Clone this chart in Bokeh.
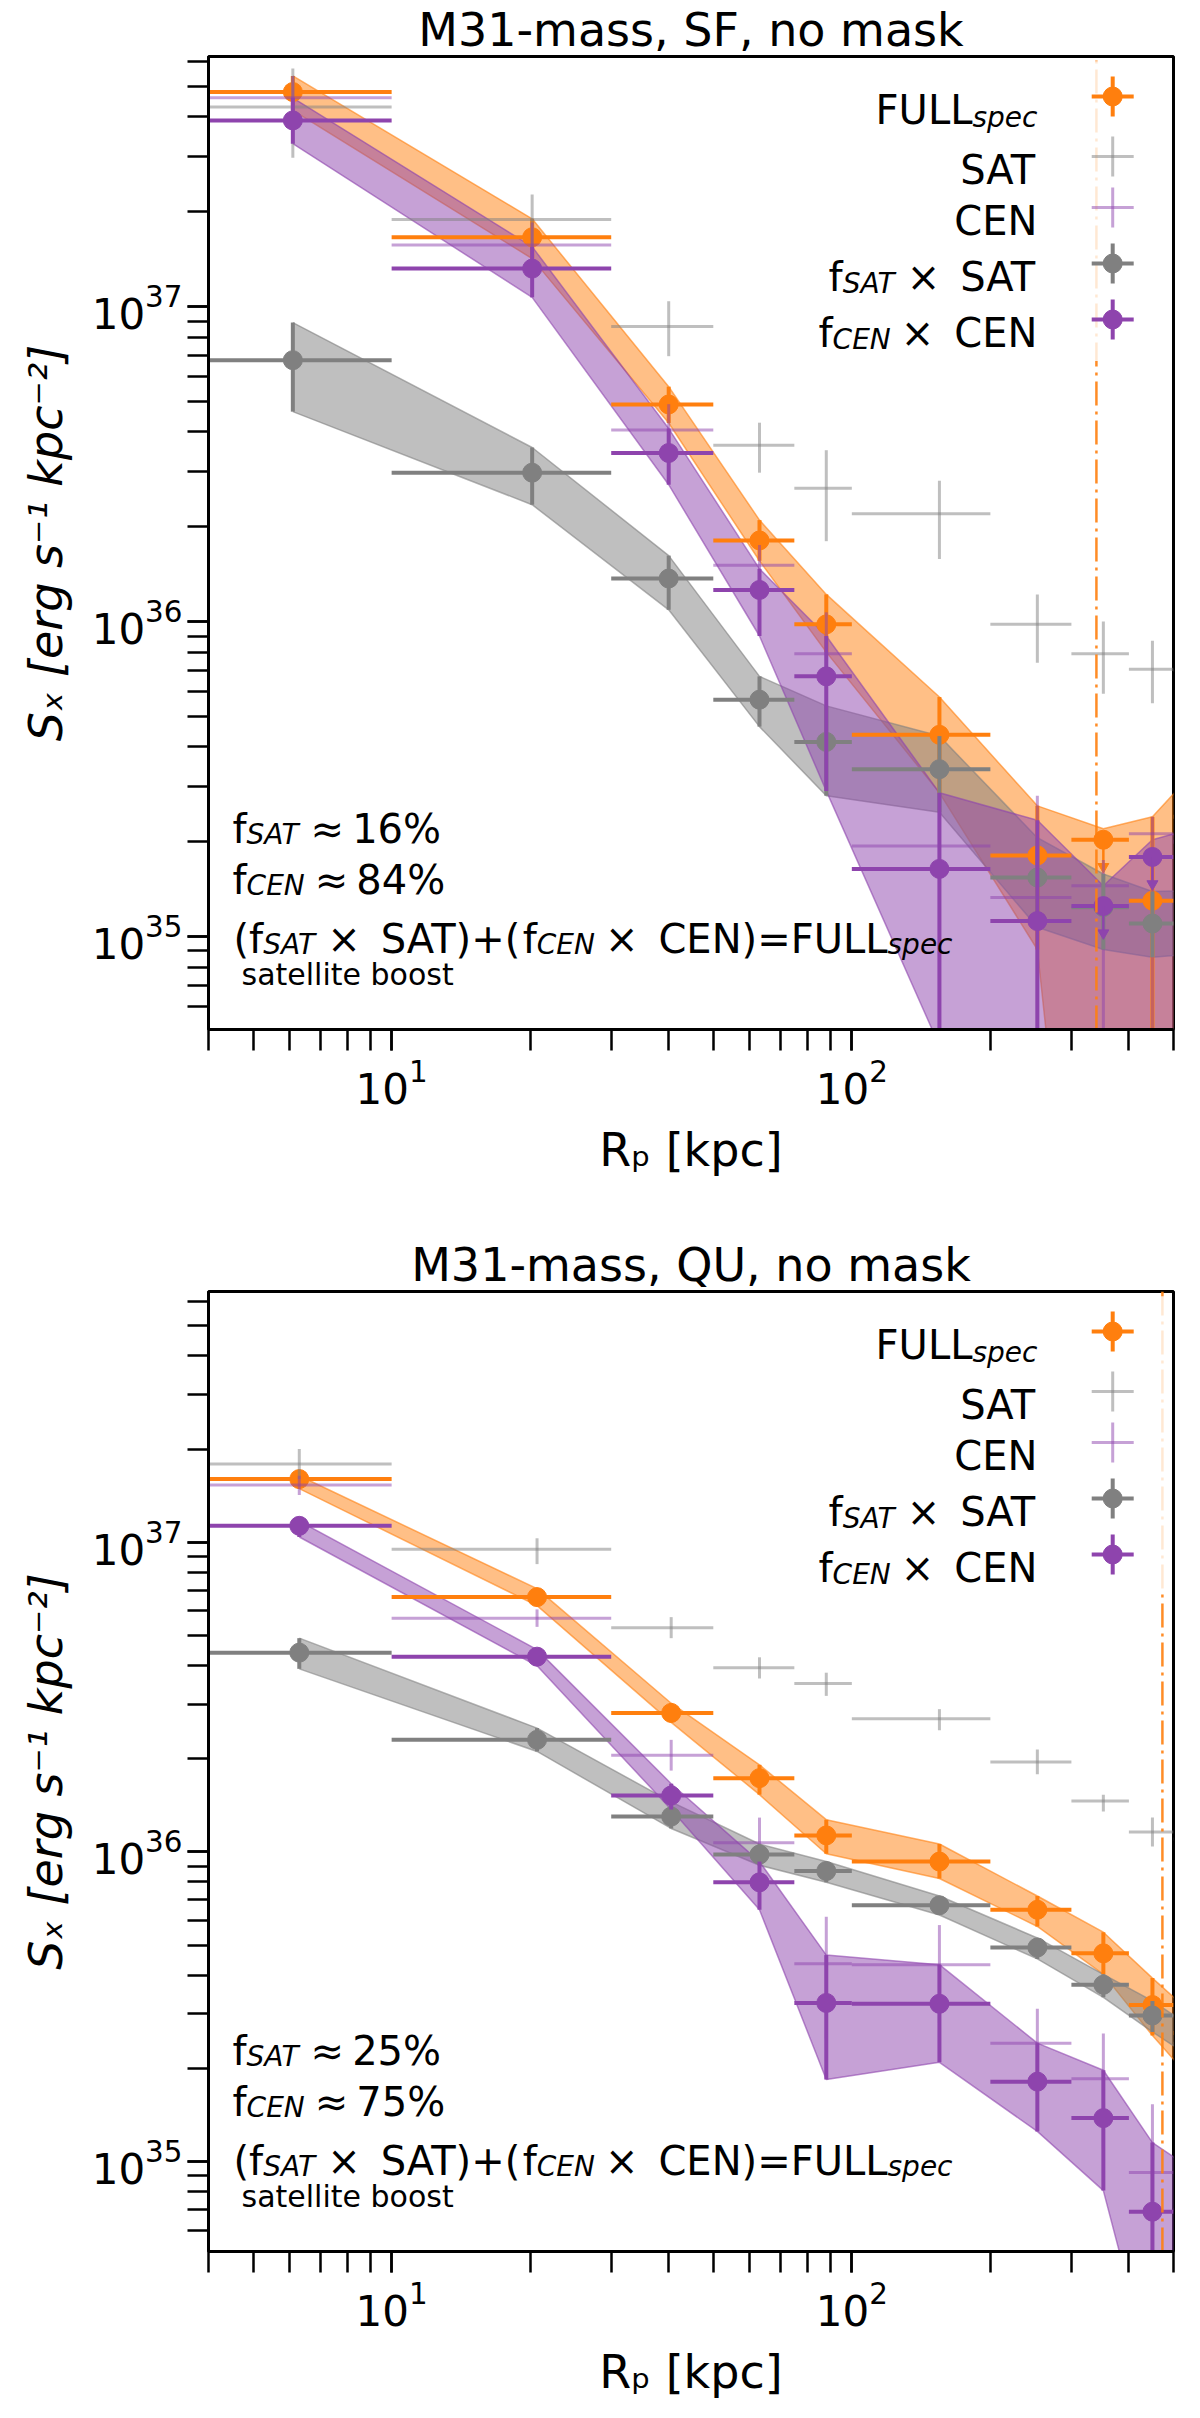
import math
from bokeh.plotting import figure
from bokeh.layouts import column
from bokeh.models import Label, Range1d
from bokeh.embed import file_html
from bokeh.resources import INLINE

# radial bins [kpc], shared by both samples
bin_lo = [4, 10, 30, 50, 75, 100, 200, 300, 400, 500]
bin_hi = [10, 30, 50, 75, 100, 200, 300, 400, 500, 600]

# ---------------- M31-mass, SF ----------------
r_sf = [6.1, 20.2, 40, 63, 88, 155, 253, 352, 450, 550]
full_sf = [4.8e37, 1.66e37, 4.89e36, 1.81e36, 9.8e35, 4.37e35, 1.81e35, 2.03e35, 1.3e35, 2.4e35]
full_sf_lo = [4.2e37, 1.42e37, 4.27e36, 1.56e36, 8.0e35, 2.86e35, 9.1e34, 1e33, 1e33, 1e33]
full_sf_hi = [5.4e37, 1.9e37, 5.57e36, 2.1e36, 1.22e36, 5.76e35, 2.6e35, 2.2e35, 2.4e35, 3.3e35]
sat_sf = [4.3e37, 1.89e37, 8.65e36, 3.63e36, 2.65e36, 2.2e36, 9.8e35, 7.9e35, 7.06e35, 7.0e35]
sat_sf_lo = [2.97e37, 1.44e37, 6.96e36, 2.97e36, 1.8e36, 1.58e36, 7.4e35, 5.9e35, 5.5e35, 5.5e35]
sat_sf_hi = [5.7e37, 2.27e37, 1.04e37, 4.28e36, 3.5e36, 2.8e36, 1.22e36, 1.0e36, 8.7e35, 8.7e35]
cen_sf = [4.6e37, 1.57e37, 4.06e36, 1.51e36, 7.9e35, 1.94e35, 1.33e35, 1.45e35, 2.12e35, 2.1e35]
cen_sf_lo = [3.9e37, 1.27e37, 3.2e36, 1.08e36, 3.4e35, 5e34, 1e33, 1e33, 1e33, 1e33]
cen_sf_hi = [5.4e37, 1.85e37, 4.9e36, 1.75e36, 1.07e36, 3.4e35, 2.8e35, 1.75e35, 2.4e35, 2.5e35]
fsat_sf = [6.76e36, 2.97e36, 1.37e36, 5.65e35, 4.15e35, 3.4e35, 1.54e35, 1.24e35, 1.1e35, 1.1e35]
fsat_sf_lo = [4.64e36, 2.35e36, 1.09e36, 4.64e35, 2.8e35, 2.48e35, 1.07e35, 9.1e34, 8.6e34, 8.8e34]
fsat_sf_hi = [8.9e36, 3.57e36, 1.62e36, 6.7e35, 5.4e35, 4.33e35, 2.06e35, 1.58e35, 1.39e35, 1.4e35]
fcen_sf = [3.9e37, 1.32e37, 3.43e36, 1.26e36, 6.7e35, 1.64e35, 1.12e35, 1.25e35, 1.79e35, 2.0e35]
fcen_sf_lo = [3.29e37, 1.07e37, 2.72e36, 9.0e35, 2.9e35, 4.5e34, 1e33, 1e33, 1e33, 1e33]
fcen_sf_hi = [4.6e37, 1.55e37, 4.1e36, 1.47e36, 9.0e35, 2.86e35, 2.34e35, 1.45e35, 2.03e35, 2.2e35]
uplim_full_sf = [7]
uplim_fcen_sf = [7, 8]
frac_sf = ["16%", "84%"]
rvir_sf = 340

# ---------------- M31-mass, QU ----------------
r_qu = [6.3, 20.7, 40.5, 63, 88, 155, 253, 352, 450, 550]
full_qu = [1.6e37, 6.65e36, 2.81e36, 1.73e36, 1.13e36, 9.3e35, 6.5e35, 4.7e35, 3.2e35, 2.6e35]
full_qu_lo = [1.49e37, 6.24e36, 2.62e36, 1.53e36, 9.86e35, 8.2e35, 5.74e35, 4.02e35, 2.55e35, 1.82e35]
full_qu_hi = [1.64e37, 7.08e36, 3.02e36, 1.91e36, 1.27e36, 1.06e36, 7.2e35, 5.5e35, 3.91e35, 2.99e35]
sat_qu = [1.79e37, 9.5e36, 5.29e36, 3.93e36, 3.5e36, 2.69e36, 1.95e36, 1.46e36, 1.16e36, 1.1e36]
sat_qu_lo = [1.6e37, 8.5e36, 4.9e36, 3.63e36, 3.19e36, 2.47e36, 1.78e36, 1.35e36, 1.04e36, 1.0e36]
sat_qu_hi = [2.0e37, 1.03e37, 5.73e36, 4.25e36, 3.79e36, 2.89e36, 2.14e36, 1.53e36, 1.29e36, 1.2e36]
cen_qu = [1.53e37, 5.68e36, 2.05e36, 1.07e36, 4.35e35, 4.32e35, 2.41e35, 1.85e35, 9.2e34, 7.0e34]
cen_qu_lo = [1.42e37, 5.33e36, 1.83e36, 8.3e35, 2.5e35, 2.8e35, 1.65e35, 1.1e35, 3e34, 1e33]
cen_qu_hi = [1.64e37, 6.07e36, 2.3e36, 1.29e36, 6.17e35, 5.8e35, 3.11e35, 2.59e35, 1.53e35, 1.2e35]
fsat_qu = [4.4e36, 2.3e36, 1.3e36, 9.8e35, 8.67e35, 6.72e35, 4.91e35, 3.72e35, 2.96e35, 2.4e35]
fsat_qu_lo = [3.9e36, 2.11e36, 1.19e36, 9.05e35, 7.97e35, 6.25e35, 4.51e35, 3.39e35, 2.62e35, 2.15e35]
fsat_qu_hi = [4.9e36, 2.51e36, 1.45e36, 1.06e36, 9.3e35, 7.2e35, 5.27e35, 4.02e35, 3.3e35, 2.7e35]
fcen_qu = [1.13e37, 4.27e36, 1.52e36, 7.97e35, 3.25e35, 3.23e35, 1.81e35, 1.38e35, 6.88e34, 5e34]
fcen_qu_lo = [1.04e37, 3.99e36, 1.37e36, 6.5e35, 1.84e35, 2.09e35, 1.25e35, 8.05e34, 2e34, 1e33]
fcen_qu_hi = [1.17e37, 4.5e36, 1.66e36, 9.3e35, 4.64e35, 4.32e35, 2.41e35, 1.97e35, 1.15e35, 9.4e34]
uplim_full_qu = []
uplim_fcen_qu = []
frac_qu = ["25%", "75%"]
rvir_qu = 473

FONT = "DejaVu Sans"
ORANGE = "#ff7f0e"
PURPLE = "#8e44ad"
GREY = "#808080"

# DejaVu Sans advance widths (em), used to lay out mixed-style text runs
ADV = {" ": .318, "(": .39, ")": .39, "[": .39, "]": .39, "+": .838, "=": .838, "×": .838,
       "≈": .838, "−": .838, "%": .95, ",": .318, "-": .361,
       "A": .684, "C": .698, "E": .632, "F": .575, "L": .557, "M": .863, "N": .748,
       "Q": .787, "R": .695, "S": .635, "T": .611, "U": .732, "X": .685,
       "a": .613, "b": .635, "c": .55, "e": .615, "f": .352, "g": .635, "i": .278,
       "k": .579, "l": .278, "m": .974, "n": .634, "o": .612, "p": .635, "r": .411,
       "s": .521, "t": .392}
for d in "0123456789":
    ADV[d] = .636


def text_width(s):
    return sum(ADV.get(ch, 0.6) for ch in s)


def to_data(g, fx, fy, dx=0.0, dy=0.0):
    x = 10 ** (g["lx0"] + (fx + dx / g["fw"]) * (g["lx1"] - g["lx0"]))
    y = 10 ** (g["ly0"] + (fy + dy / g["fh"]) * (g["ly1"] - g["ly0"]))
    return x, y


def write(p, g, fx, fy, dx, dy, pieces, size, align="left"):
    # pieces: (text, scale, style, shift_em, gap_em)
    total = sum(gap * size + text_width(t) * sc * size for t, sc, st, sh, gap in pieces)
    pos = {"left": 0.0, "center": -total / 2, "right": -total}[align]
    for t, sc, st, sh, gap in pieces:
        pos += gap * size
        x, y = to_data(g, fx, fy, dx + pos, dy + sh * size)
        p.add_layout(Label(x=x, y=y, text=t, text_font=FONT, text_color="black",
                           text_font_size=f"{sc * size:.1f}px", text_font_style=st,
                           text_align="left", text_baseline="alphabetic"))
        pos += text_width(t) * sc * size


def sub(t, gap=0.0):
    return (t, 0.7, "italic", -0.16, gap)


def reg(t, gap=0.0, style="normal"):
    return (t, 1.0, style, 0.0, gap)


def errbars(p, r, val, lo, hi, color, alpha, lw, dot, uplims=(), g=None):
    keep = [i for i in range(len(r)) if i not in uplims]
    p.segment(x0=bin_lo, y0=val, x1=bin_hi, y1=val, line_color=color, line_alpha=alpha, line_width=lw)
    p.segment(x0=[r[i] for i in keep], y0=[lo[i] for i in keep], x1=[r[i] for i in keep],
              y1=[hi[i] for i in keep], line_color=color, line_alpha=alpha, line_width=lw)
    if dot:
        p.scatter(r, val, size=19, color=color, alpha=alpha)
    if uplims:
        k = 10 ** (-27 / g["fh"] * (g["ly1"] - g["ly0"]))
        xs = [r[i] for i in uplims]
        ys = [val[i] for i in uplims]
        tips = [v * k for v in ys]
        p.segment(x0=xs, y0=ys, x1=xs, y1=tips, line_color=color, line_width=2.5)
        p.scatter(xs, tips, marker="inverted_triangle", size=11, color=color)


def panel(title, r, full, sat, cen, fsat, fcen, uplims_full, uplims_fcen, frac, rvir,
          y_range, frame_h, top, bottom):
    g = {"lx0": math.log10(4), "lx1": math.log10(500), "ly0": math.log10(y_range[0]),
         "ly1": math.log10(y_range[1]), "fw": 965, "fh": frame_h}
    p = figure(x_axis_type="log", y_axis_type="log", x_range=Range1d(4, 500),
               y_range=Range1d(*y_range), frame_width=965, frame_height=frame_h,
               min_border_left=208, min_border_right=11, min_border_top=top,
               min_border_bottom=bottom, output_backend="svg", toolbar_location=None,
               title=title)
    p.title.text_font = FONT
    p.title.text_font_size = "46px"
    p.title.text_font_style = "normal"
    p.title.text_color = "black"
    p.title.align = "center"
    p.title.standoff = 0
    p.title.offset = 0
    p.grid.visible = False
    p.outline_line_color = "black"
    p.outline_line_width = 3
    p.outline_line_alpha = 1
    for ax in (p.xaxis, p.yaxis):
        ax.axis_line_width = 3
        ax.major_tick_out = 21
        ax.major_tick_in = 0
        ax.minor_tick_out = 21
        ax.minor_tick_in = 0
        ax.major_tick_line_width = 2.5
        ax.minor_tick_line_width = 2.5
        ax.major_label_text_font = FONT
        ax.major_label_text_font_size = "42px"
        ax.major_label_text_color = "black"
        ax.axis_label_text_font = FONT
        ax.axis_label_text_font_size = "46px"
        ax.axis_label_text_color = "black"
    p.yaxis.major_label_standoff = 5
    p.xaxis.major_label_standoff = 8
    p.xaxis.axis_label = "Rₚ [kpc]"
    p.xaxis.axis_label_text_font_style = "normal"
    p.xaxis.axis_label_standoff = 16
    p.yaxis.axis_label = "Sₓ [erg s⁻¹ kpc⁻²]"
    p.yaxis.axis_label_text_font_style = "italic"
    p.yaxis.axis_label_standoff = 16

    # shaded bands
    for (val, lo, hi), color in ((full, ORANGE), (fsat, GREY), (fcen, PURPLE)):
        p.varea(x=r, y1=lo, y2=hi, fill_color=color, fill_alpha=0.5)
        p.line(r, lo, line_color=color, line_alpha=0.6, line_width=1.5)
        p.line(r, hi, line_color=color, line_alpha=0.6, line_width=1.5)

    errbars(p, r, *full, ORANGE, 1.0, 4, True, uplims_full, g)
    errbars(p, r, *sat, GREY, 0.5, 3, False)
    errbars(p, r, *cen, PURPLE, 0.5, 3, False)
    errbars(p, r, *fsat, GREY, 1.0, 4, True)
    errbars(p, r, *fcen, PURPLE, 1.0, 4, True, uplims_fcen, g)

    p.segment(x0=[rvir], y0=[y_range[0]], x1=[rvir], y1=[y_range[1]], line_color=ORANGE,
              line_width=2.5, line_alpha=0.9, line_dash="24 6 3 6")

    # legend box and entries
    bl, bb = to_data(g, 0.62, 0.687)
    br, bt = to_data(g, 0.995, 0.995)
    p.quad(left=[bl], right=[br], bottom=[bb], top=[bt], fill_color="white", fill_alpha=0.8,
           line_color=None)
    entries = [
        ([reg("FULL"), ("spec", 0.7, "italic", -0.18, 0.0)], ORANGE, 1.0, 4, True),
        ([reg("SAT")], GREY, 0.5, 3, False),
        ([reg("CEN")], PURPLE, 0.5, 3, False),
        ([reg("f"), sub("SAT"), reg("×", 0.25), reg("SAT", 0.5)], GREY, 1.0, 4, True),
        ([reg("f"), sub("CEN"), reg("×", 0.25), reg("CEN", 0.5)], PURPLE, 1.0, 4, True),
    ]
    for dy, (pieces, color, alpha, lw, dot) in zip([-40, -100, -151, -207, -263], entries):
        x0, _ = to_data(g, 0.937, 1.0, -21, dy)
        x1, _ = to_data(g, 0.937, 1.0, 21, dy)
        xc, yc = to_data(g, 0.937, 1.0, 0, dy)
        _, ya = to_data(g, 0.937, 1.0, 0, dy - 20)
        _, yb = to_data(g, 0.937, 1.0, 0, dy + 20)
        p.segment(x0=[x0, xc], y0=[yc, ya], x1=[x1, xc], y1=[yc, yb], line_color=color,
                  line_alpha=alpha, line_width=lw)
        if dot:
            p.scatter([xc], [yc], size=19, color=color)
        write(p, g, 0.859, 1.0, 0, dy - 13.7, pieces, 40, align="right")

    # annotations
    write(p, g, 0.0, 0.0, 24, 201, [reg("f"), sub("SAT"), reg("≈", 0.25), reg(frac[0], 0.2)], 40)
    write(p, g, 0.0, 0.0, 24, 150, [reg("f"), sub("CEN"), reg("≈", 0.25), reg(frac[1], 0.2)], 40)
    write(p, g, 0.0, 0.0, 25, 91,
          [reg("("), reg("f"), sub("SAT"), reg("×", 0.25), reg("SAT)+(", 0.5), reg("f"),
           sub("CEN"), reg("×", 0.25), reg("CEN)=FULL", 0.5), sub("spec")], 40)
    write(p, g, 0.0, 0.0, 33, 55, [reg("satellite boost")], 30)
    return p


p1 = panel("M31-mass, SF, no mask", r_sf,
           (full_sf, full_sf_lo, full_sf_hi), (sat_sf, sat_sf_lo, sat_sf_hi),
           (cen_sf, cen_sf_lo, cen_sf_hi), (fsat_sf, fsat_sf_lo, fsat_sf_hi),
           (fcen_sf, fcen_sf_lo, fcen_sf_hi), uplim_full_sf, uplim_fcen_sf, frac_sf, rvir_sf,
           (10 ** 34.705, 10 ** 37.794), 973, 54, 160)
p2 = panel("M31-mass, QU, no mask", r_qu,
           (full_qu, full_qu_lo, full_qu_hi), (sat_qu, sat_qu_lo, sat_qu_hi),
           (cen_qu, cen_qu_lo, cen_qu_hi), (fsat_qu, fsat_qu_lo, fsat_qu_hi),
           (fcen_qu, fcen_qu_lo, fcen_qu_hi), uplim_full_qu, uplim_fcen_qu, frac_qu, rvir_qu,
           (10 ** 34.709, 10 ** 37.81), 960, 102, 140)

p = column(p1, p2)
open("out.html", "w").write(file_html(p, INLINE))
